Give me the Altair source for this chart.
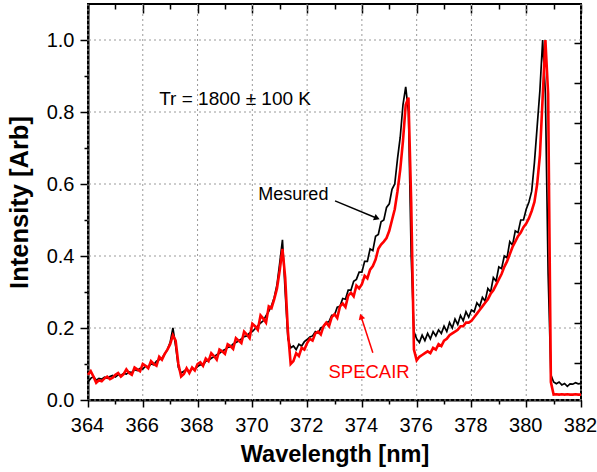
import altair as alt
import pandas as pd

# ---- data ----
wavelength = [
    364.0, 364.1, 364.2, 364.3, 364.4, 364.5, 364.6, 364.7, 364.8, 364.9,
    365.0, 365.1, 365.2, 365.3, 365.4, 365.5, 365.6, 365.7, 365.8, 365.9,
    366.0, 366.1, 366.2, 366.3, 366.4, 366.5, 366.6, 366.7, 366.8, 366.9,
    367.0, 367.1, 367.2, 367.3, 367.4, 367.5, 367.6, 367.7, 367.8, 367.9,
    368.0, 368.1, 368.2, 368.3, 368.4, 368.5, 368.6, 368.7, 368.8, 368.9,
    369.0, 369.1, 369.2, 369.3, 369.4, 369.5, 369.6, 369.7, 369.8, 369.9,
    370.0, 370.1, 370.2, 370.3, 370.4, 370.5, 370.6, 370.7, 370.8, 370.9,
    371.0, 371.1, 371.2, 371.3, 371.4, 371.5, 371.6, 371.7, 371.8, 371.9,
    372.0, 372.1, 372.2, 372.3, 372.4, 372.5, 372.6, 372.7, 372.8, 372.9,
    373.0, 373.1, 373.2, 373.3, 373.4, 373.5, 373.6, 373.7, 373.8, 373.9,
    374.0, 374.1, 374.2, 374.3, 374.4, 374.5, 374.6, 374.7, 374.8, 374.9,
    375.0, 375.1, 375.2, 375.3, 375.4, 375.5, 375.6, 375.7, 375.8, 375.9,
    376.0, 376.1, 376.2, 376.3, 376.4, 376.5, 376.6, 376.7, 376.8, 376.9,
    377.0, 377.1, 377.2, 377.3, 377.4, 377.5, 377.6, 377.7, 377.8, 377.9,
    378.0, 378.1, 378.2, 378.3, 378.4, 378.5, 378.6, 378.7, 378.8, 378.9,
    379.0, 379.1, 379.2, 379.3, 379.4, 379.5, 379.6, 379.7, 379.8, 379.9,
    380.0, 380.1, 380.2, 380.3, 380.4, 380.5, 380.6, 380.7, 380.8, 380.9,
    381.0, 381.1, 381.2, 381.3, 381.4, 381.5, 381.6, 381.7, 381.8, 381.9,
    382.0,
]
measured = [
    0.050, 0.060, 0.065, 0.055, 0.060, 0.058, 0.063, 0.060, 0.065, 0.068,
    0.064, 0.070, 0.068, 0.074, 0.072, 0.078, 0.076, 0.084, 0.082, 0.088,
    0.086, 0.094, 0.092, 0.100, 0.098, 0.108, 0.112, 0.116, 0.128, 0.140,
    0.160, 0.200, 0.150, 0.090, 0.075, 0.080, 0.085, 0.078, 0.088, 0.086,
    0.093, 0.098, 0.096, 0.108, 0.110, 0.116, 0.120, 0.126, 0.130, 0.136,
    0.140, 0.146, 0.148, 0.156, 0.160, 0.164, 0.170, 0.176, 0.178, 0.186,
    0.190, 0.198, 0.206, 0.214, 0.220, 0.234, 0.246, 0.262, 0.285, 0.320,
    0.380, 0.445, 0.300, 0.170, 0.145, 0.150, 0.140, 0.155, 0.150, 0.162,
    0.168, 0.175, 0.178, 0.190, 0.186, 0.200, 0.204, 0.215, 0.218, 0.235,
    0.236, 0.258, 0.260, 0.282, 0.280, 0.305, 0.305, 0.330, 0.335, 0.355,
    0.355, 0.385, 0.385, 0.420, 0.415, 0.455, 0.460, 0.495, 0.500, 0.535,
    0.545, 0.585, 0.600, 0.670, 0.730, 0.820, 0.870, 0.800, 0.400, 0.190,
    0.170, 0.160, 0.180, 0.165, 0.185, 0.170, 0.190, 0.178, 0.195, 0.185,
    0.205, 0.190, 0.215, 0.200, 0.225, 0.210, 0.235, 0.220, 0.245, 0.230,
    0.250, 0.245, 0.270, 0.260, 0.285, 0.275, 0.310, 0.300, 0.340, 0.330,
    0.370, 0.365, 0.400, 0.395, 0.440, 0.430, 0.470, 0.465, 0.500, 0.500,
    0.530, 0.550, 0.580, 0.660, 0.760, 0.860, 1.000, 0.850, 0.350, 0.070,
    0.050, 0.045, 0.050, 0.042, 0.046, 0.038, 0.045, 0.044, 0.048, 0.045,
    0.046,
]
specair = [
    0.070, 0.080, 0.065, 0.048, 0.055, 0.052, 0.060, 0.065, 0.058, 0.062,
    0.070, 0.075, 0.065, 0.072, 0.085, 0.075, 0.070, 0.090, 0.085, 0.080,
    0.100, 0.095, 0.088, 0.108, 0.100, 0.095, 0.120, 0.112, 0.128, 0.140,
    0.155, 0.180, 0.165, 0.100, 0.065, 0.072, 0.088, 0.075, 0.090, 0.082,
    0.100, 0.105, 0.095, 0.115, 0.108, 0.130, 0.122, 0.112, 0.140, 0.135,
    0.128, 0.155, 0.150, 0.142, 0.172, 0.165, 0.158, 0.190, 0.182, 0.172,
    0.212, 0.205, 0.195, 0.235, 0.226, 0.215, 0.260, 0.255, 0.280, 0.310,
    0.360, 0.420, 0.340, 0.190, 0.100, 0.108, 0.130, 0.122, 0.145, 0.140,
    0.158, 0.170, 0.165, 0.185, 0.190, 0.182, 0.205, 0.215, 0.205, 0.230,
    0.238, 0.228, 0.260, 0.268, 0.258, 0.290, 0.298, 0.288, 0.318, 0.310,
    0.322, 0.345, 0.338, 0.362, 0.372, 0.390, 0.420, 0.432, 0.440, 0.450,
    0.470, 0.500, 0.530, 0.580, 0.640, 0.720, 0.820, 0.840, 0.550, 0.140,
    0.110, 0.120, 0.125, 0.130, 0.135, 0.130, 0.145, 0.140, 0.155, 0.150,
    0.165, 0.170, 0.180, 0.185, 0.190, 0.195, 0.205, 0.205, 0.215, 0.215,
    0.220, 0.230, 0.240, 0.250, 0.260, 0.270, 0.280, 0.295, 0.305, 0.320,
    0.335, 0.350, 0.370, 0.385, 0.405, 0.425, 0.440, 0.455, 0.465, 0.480,
    0.490, 0.505, 0.525, 0.550, 0.600, 0.680, 0.840, 1.000, 0.850, 0.050,
    0.015, 0.016, 0.015, 0.016, 0.015, 0.016, 0.015, 0.015, 0.016, 0.015,
    0.015,
]
assert len(wavelength) == len(measured) == len(specair)

x_major = [364, 366, 368, 370, 372, 374, 376, 378, 380, 382]
x_minor = [365, 367, 369, 371, 373, 375, 377, 379, 381]
y_major = [0.0, 0.2, 0.4, 0.6, 0.8, 1.0]
y_minor = [0.1, 0.3, 0.5, 0.7, 0.9]
right_ticks = [0, 1, 2, 3, 4, 5, 6, 7, 8]

# annotations (data coordinates)
notes_text = ["Tr = 1800 \u00b1 100 K", "Mesured", "SPECAIR"]
notes_x = [366.6, 370.22, 372.78]
notes_y = [0.836, 0.570, 0.078]
notes_size = [19, 18, 18.5]
notes_color = ["black", "black", "#ff0000"]

arrow_x = [373.02, 374.40]
arrow_y = [0.553, 0.131]
arrow_x2 = [374.55, 373.97]
arrow_y2 = [0.505, 0.232]
head_x = [374.55, 373.97]
head_y = [0.505, 0.232]
head_angle = [113, 342]
arrow_color = ["black", "#ff0000"]

FONT = "Liberation Sans"
GRID = dict(color="#9a9a9a", strokeWidth=1, strokeDash=[2, 3])

df = pd.DataFrame({"wl": wavelength, "Mesured": measured, "SPECAIR": specair})
anchor = pd.DataFrame({"x": [364.0], "y": [0.0], "r": [0]})
vgrid = pd.DataFrame({"x": x_major})
hgrid = pd.DataFrame({"y": y_major})
notes = pd.DataFrame({"t": notes_text, "x": notes_x, "y": notes_y, "s": notes_size, "c": notes_color})
arrows = pd.DataFrame({"x": arrow_x, "y": arrow_y, "x2": arrow_x2, "y2": arrow_y2,
                       "hx": head_x, "hy": head_y, "a": head_angle, "c": arrow_color})

xs = alt.Scale(domain=[364, 382], nice=False, zero=False)
ys = alt.Scale(domain=[0, 1.1], nice=False, zero=False)


def tick_axis(orient, values, size, offset=0):
    return alt.Axis(orient=orient, values=values, tickSize=size, offset=offset,
                    tickColor="black", tickWidth=1.5, domain=False, grid=False,
                    labels=False, title=None)


vlines = alt.Chart(vgrid).mark_rule(**GRID).encode(
    x=alt.X("x:Q", scale=xs, axis=None),
)
hlines = alt.Chart(hgrid).mark_rule(**GRID).encode(
    y=alt.Y("y:Q", scale=ys, axis=None),
)

black = alt.Chart(df).mark_line(color="black", strokeWidth=1.7).encode(
    x=alt.X("wl:Q", scale=xs, axis=alt.Axis(
        orient="bottom", values=x_major, format=".0f", title="Wavelength [nm]",
        tickSize=7, tickWidth=1.5, tickColor="black", labelPadding=8, labelFlush=False,
        labelOffset=-1,
        labelFont=FONT, labelFontSize=20, labelColor="black",
        titleFont=FONT, titleFontSize=23.5, titleFontWeight="bold", titleColor="black",
        titleBaseline="alphabetic", titleY=61,
        domain=True, domainColor="black", domainWidth=2, grid=False)),
    y=alt.Y("Mesured:Q", scale=ys, axis=alt.Axis(
        orient="left", values=y_major, format=".1f", title="Intensity [Arb]",
        tickSize=8, tickWidth=1.5, tickColor="black", labelPadding=6, labelFlush=False,
        labelFont=FONT, labelFontSize=20, labelColor="black",
        titleFont=FONT, titleFontSize=25.5, titleFontWeight="bold", titleColor="black",
        titleBaseline="middle", titleX=-69,
        domain=True, domainColor="black", domainWidth=2, grid=False)),
)

red = alt.Chart(df).mark_line(color="#ff0000", strokeWidth=2.6).encode(
    x=alt.X("wl:Q", scale=xs, axis=None),
    y=alt.Y("SPECAIR:Q", scale=ys, axis=None),
)

minor_ticks = alt.Chart(anchor).mark_point(opacity=0).encode(
    x=alt.X("x:Q", scale=xs, axis=tick_axis("bottom", x_minor, 4)),
    y=alt.Y("y:Q", scale=ys, axis=tick_axis("left", y_minor, 4)),
)

top_major = alt.Chart(anchor).mark_point(opacity=0).encode(
    x=alt.X("x:Q", scale=xs, axis=tick_axis("top", x_major, 9, -9)),
    y=alt.Y("y:Q", scale=ys, axis=None),
)

top_minor = alt.Chart(anchor).mark_point(opacity=0).encode(
    x=alt.X("x:Q", scale=xs, axis=tick_axis("top", x_minor, 5, -5)),
    y=alt.Y("y:Q", scale=ys, axis=None),
)

right_side = alt.Chart(anchor).mark_point(opacity=0).encode(
    x=alt.X("x:Q", scale=xs, axis=None),
    y=alt.Y("r:Q", scale=alt.Scale(domain=[-0.925, 8.975], nice=False, zero=False),
            axis=tick_axis("right", right_ticks, 7, -7)),
)

texts = alt.Chart(notes).mark_text(align="left", baseline="middle", font=FONT).encode(
    x=alt.X("x:Q", scale=xs, axis=None),
    y=alt.Y("y:Q", scale=ys, axis=None),
    text="t:N",
    size=alt.Size("s:Q", scale=None),
    color=alt.Color("c:N", scale=None),
)

shafts = alt.Chart(arrows).mark_rule(strokeWidth=1.5).encode(
    x=alt.X("x:Q", scale=xs, axis=None),
    y=alt.Y("y:Q", scale=ys, axis=None),
    x2="x2:Q",
    y2="y2:Q",
    color=alt.Color("c:N", scale=None),
)

heads = alt.Chart(arrows).mark_point(shape="triangle-up", filled=True, size=45, opacity=1).encode(
    x=alt.X("hx:Q", scale=xs, axis=None),
    y=alt.Y("hy:Q", scale=ys, axis=None),
    angle=alt.Angle("a:Q", scale=None),
    color=alt.Color("c:N", scale=None),
)

chart = alt.layer(
    vlines, hlines, black, red, minor_ticks, top_major, top_minor, right_side, texts, shafts, heads
).resolve_scale(y="independent").resolve_axis(x="independent", y="independent").properties(
    width=493, height=396,
    autosize=alt.AutoSizeParams(type="none"),
    padding={"left": 88, "top": 4, "right": 16, "bottom": 72},
    background="white",
).configure_view(stroke="black", strokeWidth=2)

chart.save("out.html", embed_options={"renderer": "svg", "actions": False})
